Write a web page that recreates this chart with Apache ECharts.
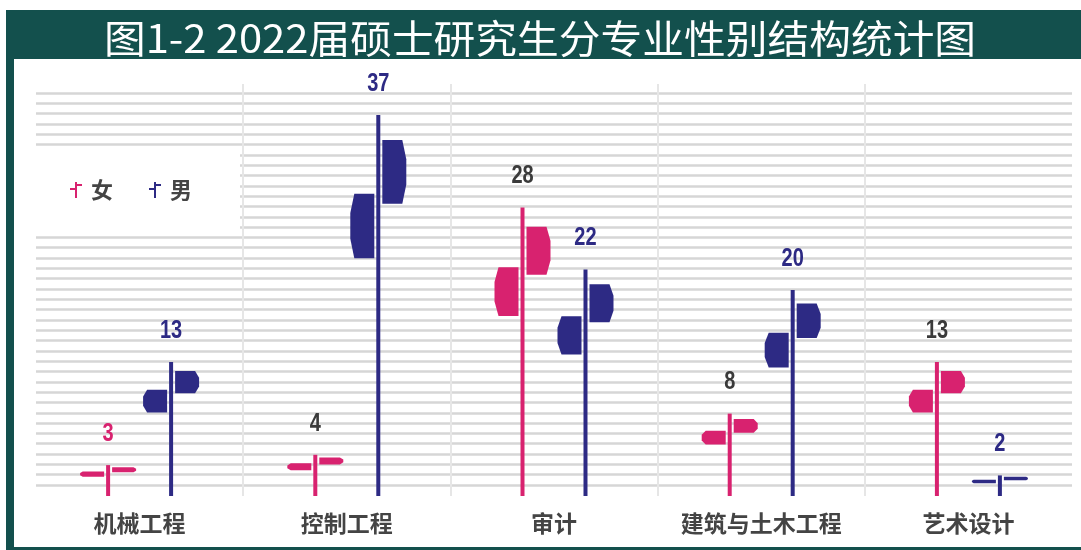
<!DOCTYPE html>
<html>
<head>
<meta charset="utf-8">
<script src="https://cdn.jsdelivr.net/npm/echarts@6/dist/echarts.min.js"></script>
<style>
  html, body { margin: 0; padding: 0; background: #fff; }
  #main { width: 1081px; height: 550px; }
</style>
</head>
<body>
<div id="main"></div>
<script>
// 专业
const categories = ['机械工程', '控制工程', '审计', '建筑与土木工程', '艺术设计'];
// 人数
const femaleValues = [3, 4, 28, 8, 13];
const maleValues = [13, 37, 22, 20, 2];

const PINK = '#d8226f';
const NAVY = '#2d2a84';
const GREEN = '#13504d';
// 女生数字标签颜色（原图只有第一个是粉色）
const femaleLabelColors = [PINK, '#3a3a3a', '#3a3a3a', '#3a3a3a', '#3a3a3a'];

const chart = echarts.init(document.getElementById('main'));

// 路标形状：竖杆 + 右上牌 + 左下牌，高度按数值缩放
function renderSignpost(params, api) {
  const i = api.value(0);
  const v = api.value(1);
  const side = params.seriesIndex === 0 ? -1 : 1;
  const color = side < 0 ? PINK : NAVY;
  const band = api.size([1, 0])[0];
  const base = api.coord([i, 0]);
  const x = base[0] + side * band * 0.152;
  const yAt = f => api.coord([i, v * f])[1];
  const top = yAt(1);

  function board(y0, y1, dir) {
    if (y1 - y0 < 3) y1 = y0 + 3;
    const h = y1 - y0;
    const tip = Math.min(4, h / 2);
    let pts;
    if (dir > 0) {
      const a = x + 4, b = x + 28;
      pts = [[a, y0], [b - tip, y0], [b, y0 + h * 0.3], [b, y1 - h * 0.3], [b - tip, y1], [a, y1]];
    } else {
      const a = x - 4, b = x - 28;
      pts = [[a, y0], [b + tip, y0], [b, y0 + h * 0.3], [b, y1 - h * 0.3], [b + tip, y1], [a, y1]];
    }
    return { type: 'polygon', shape: { points: pts }, style: { fill: color } };
  }

  return {
    type: 'group',
    children: [
      { type: 'rect', shape: { x: x - 2, y: top, width: 4, height: base[1] - top }, style: { fill: color } },
      board(yAt(0.934), yAt(0.767), 1),
      board(yAt(0.793), yAt(0.624), -1),
      {
        type: 'text',
        x: x,
        y: top - 31,
        scaleX: 0.8,
        style: {
          text: String(v),
          x: 0,
          y: 0,
          align: 'center',
          verticalAlign: 'middle',
          fill: side < 0 ? femaleLabelColors[i] : NAVY,
          fontSize: 25,
          fontWeight: 'bold',
          fontFamily: '"Liberation Sans", sans-serif'
        }
      }
    ]
  };
}

const iconPath = 'path://M5,0h2v16h-2z M7,2h5v2h-5z M0,6h5v2h-5z';

chart.setOption({
  animation: false,
  backgroundColor: '#fff',
  graphic: [
    { type: 'rect', z: 10, shape: { x: 6, y: 10, width: 1075, height: 49 }, style: { fill: GREEN } },
    { type: 'rect', z: 10, shape: { x: 6, y: 10, width: 8, height: 540 }, style: { fill: GREEN } },
    { type: 'rect', z: 10, shape: { x: 6, y: 547, width: 1075, height: 3 }, style: { fill: GREEN } },
    {
      type: 'text', z: 11, x: 540, y: 38, scaleX: 1.07,
      style: {
        text: '图1-2 2022届硕士研究生分专业性别结构统计图',
        fill: '#fff',
        fontSize: 39,
        fontFamily: '"Noto Sans CJK SC", sans-serif',
        align: 'center',
        verticalAlign: 'middle'
      }
    }
  ],
  legend: {
    left: 36,
    top: 147,
    padding: [32, 48, 31, 34],
    backgroundColor: '#fff',
    itemGap: 36,
    itemWidth: 12,
    itemHeight: 16,
    data: [
      { name: '女', icon: iconPath },
      { name: '男', icon: iconPath }
    ],
    textStyle: {
      color: '#444',
      fontSize: 22,
      fontWeight: 'bold',
      fontFamily: '"Noto Sans CJK SC", sans-serif',
      padding: [0, 0, 0, 4]
    }
  },
  grid: [
    { left: 36, right: 9, top: 84, bottom: 54 },
    { left: 36, right: 9, top: 93, bottom: 65 }
  ],
  xAxis: [
    {
      type: 'category',
      gridIndex: 0,
      data: categories,
      axisLine: { show: false },
      axisTick: { show: false },
      axisLabel: {
        interval: 0,
        margin: 16,
        color: '#444',
        fontSize: 23,
        fontWeight: 'bold',
        fontFamily: '"Noto Sans CJK SC", sans-serif'
      },
      splitLine: {
        show: true,
        interval: 0,
        showMinLine: false,
        showMaxLine: false,
        lineStyle: { color: '#e6e6e6', width: 2 }
      }
    },
    { type: 'category', gridIndex: 1, data: categories, show: false }
  ],
  yAxis: [
    { type: 'value', gridIndex: 0, min: 0, max: 40, show: false, splitLine: { show: false } },
    {
      type: 'value',
      gridIndex: 1,
      min: 0,
      max: 38,
      interval: 1,
      axisLabel: { show: false },
      axisLine: { show: false },
      axisTick: { show: false },
      splitLine: { show: true, lineStyle: { color: '#d6d6d6', width: 2.5 } }
    }
  ],
  series: [
    {
      name: '女',
      type: 'custom',
      xAxisIndex: 0,
      yAxisIndex: 0,
      itemStyle: { color: PINK },
      renderItem: renderSignpost,
      encode: { x: 0, y: 1 },
      data: femaleValues.map((v, i) => [i, v]),
      z: 5
    },
    {
      name: '男',
      type: 'custom',
      xAxisIndex: 0,
      yAxisIndex: 0,
      itemStyle: { color: NAVY },
      renderItem: renderSignpost,
      encode: { x: 0, y: 1 },
      data: maleValues.map((v, i) => [i, v]),
      z: 5
    }
  ]
});

window.onresize = function () {
  chart.resize();
};
</script>
</body>
</html>
